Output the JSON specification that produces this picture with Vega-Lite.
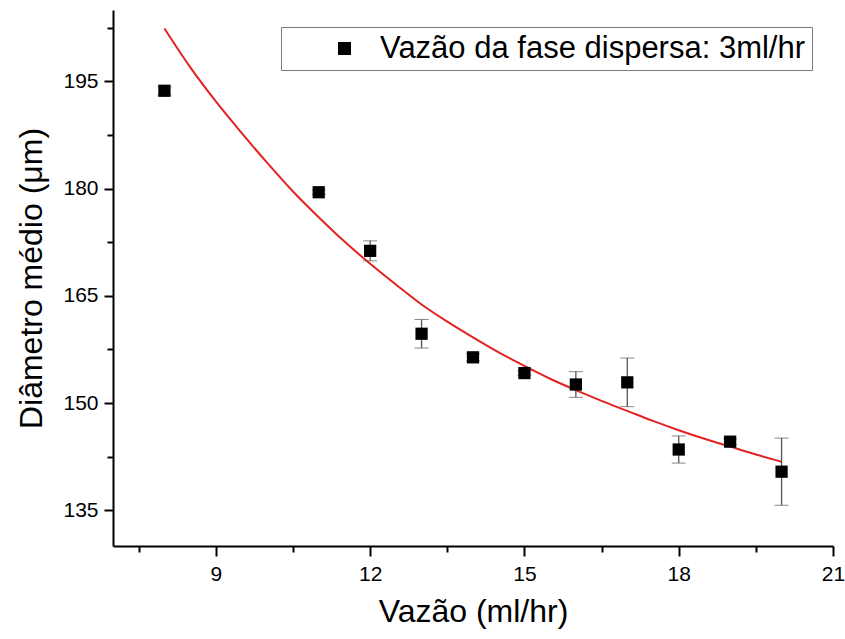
{
  "$schema": "https://vega.github.io/schema/vega-lite/v6.json",
  "width": 720,
  "height": 536,
  "autosize": {"type": "none"},
  "padding": {"left": 113, "top": 10, "right": 12, "bottom": 93},
  "background": "white",
  "config": {
    "view": {"stroke": null},
    "font": "Liberation Sans",
    "axis": {
      "grid": false,
      "domainColor": "black",
      "domainWidth": 2,
      "tickColor": "black",
      "tickWidth": 2,
      "labelFont": "Liberation Sans",
      "labelFontSize": 21,
      "labelColor": "black",
      "titleFont": "Liberation Sans",
      "titleFontSize": 32,
      "titleFontWeight": "normal",
      "titleColor": "black",
      "labelOverlap": false,
      "labelFlush": false,
      "labelBound": false
    }
  },
  "datasets": {
    "curve": [
      {"x": 8.0, "y": 202.4},
      {"x": 8.5, "y": 197.0},
      {"x": 9.0, "y": 192.2},
      {"x": 9.5, "y": 187.8},
      {"x": 10.0, "y": 183.6},
      {"x": 10.5, "y": 179.6},
      {"x": 11.0, "y": 176.0},
      {"x": 11.5, "y": 172.6},
      {"x": 12.0, "y": 169.5},
      {"x": 12.5, "y": 166.6},
      {"x": 13.0, "y": 163.8},
      {"x": 13.5, "y": 161.4},
      {"x": 14.0, "y": 159.2},
      {"x": 14.5, "y": 157.1},
      {"x": 15.0, "y": 155.2},
      {"x": 15.5, "y": 153.4},
      {"x": 16.0, "y": 151.8},
      {"x": 16.5, "y": 150.3},
      {"x": 17.0, "y": 148.9},
      {"x": 17.5, "y": 147.5},
      {"x": 18.0, "y": 146.2},
      {"x": 18.5, "y": 145.0},
      {"x": 19.0, "y": 143.9},
      {"x": 19.5, "y": 142.8},
      {"x": 20.0, "y": 141.8}
    ],
    "points": [
      {"x": 8, "y": 193.7, "lo": 193.1, "hi": 194.3, "series": "Vazão da fase dispersa: 3ml/hr"},
      {"x": 11, "y": 179.5, "lo": 179.2, "hi": 179.8, "series": "Vazão da fase dispersa: 3ml/hr"},
      {"x": 12, "y": 171.3, "lo": 169.9, "hi": 172.7, "series": "Vazão da fase dispersa: 3ml/hr"},
      {"x": 13, "y": 159.7, "lo": 157.7, "hi": 161.7, "series": "Vazão da fase dispersa: 3ml/hr"},
      {"x": 14, "y": 156.4, "lo": 155.9, "hi": 156.9, "series": "Vazão da fase dispersa: 3ml/hr"},
      {"x": 15, "y": 154.2, "lo": 153.9, "hi": 154.5, "series": "Vazão da fase dispersa: 3ml/hr"},
      {"x": 16, "y": 152.6, "lo": 150.8, "hi": 154.4, "series": "Vazão da fase dispersa: 3ml/hr"},
      {"x": 17, "y": 152.9, "lo": 149.5, "hi": 156.3, "series": "Vazão da fase dispersa: 3ml/hr"},
      {"x": 18, "y": 143.5, "lo": 141.6, "hi": 145.4, "series": "Vazão da fase dispersa: 3ml/hr"},
      {"x": 19, "y": 144.6, "lo": 144.2, "hi": 145.0, "series": "Vazão da fase dispersa: 3ml/hr"},
      {"x": 20, "y": 140.4, "lo": 135.7, "hi": 145.1, "series": "Vazão da fase dispersa: 3ml/hr"}
    ]
  },
  "layer": [
    {
      "data": {"name": "curve"},
      "mark": {"type": "line", "color": "#e32222", "strokeWidth": 2, "interpolate": "monotone"},
      "encoding": {
        "x": {
          "field": "x", "type": "quantitative",
          "scale": {"domain": [7, 21], "nice": false, "zero": false},
          "axis": {
            "title": "Vazão (ml/hr)",
            "values": [7.5, 9, 10.5, 12, 13.5, 15, 16.5, 18, 19.5, 21],
            "labelExpr": "datum.value % 3 === 0 ? datum.label : ''",
            "tickSize": {"condition": {"test": "datum.value % 3 !== 0", "value": 6}, "value": 10},
            "labelPadding": 7,
            "titlePadding": 12
          }
        },
        "y": {
          "field": "y", "type": "quantitative",
          "scale": {"domain": [130, 205], "nice": false, "zero": false},
          "axis": {
            "title": "Diâmetro médio (μm)",
            "values": [135, 142.5, 150, 157.5, 165, 172.5, 180, 187.5, 195, 202.5],
            "labelExpr": "datum.value % 15 === 0 ? datum.label : ''",
            "tickSize": {"condition": {"test": "datum.value % 15 !== 0", "value": 6}, "value": 9},
            "labelPadding": 6,
            "titlePadding": 14
          }
        }
      }
    },
    {
      "data": {"name": "points"},
      "mark": {"type": "errorbar", "ticks": {"size": 14, "color": "#555555", "strokeWidth": 1.3}, "rule": {"color": "#555555", "strokeWidth": 1.3}},
      "encoding": {
        "x": {"field": "x", "type": "quantitative", "scale": {"domain": [7, 21], "nice": false, "zero": false},
          "axis": {
            "title": "Vazão (ml/hr)",
            "values": [7.5, 9, 10.5, 12, 13.5, 15, 16.5, 18, 19.5, 21],
            "labelExpr": "datum.value % 3 === 0 ? datum.label : ''",
            "tickSize": {"condition": {"test": "datum.value % 3 !== 0", "value": 6}, "value": 10},
            "labelPadding": 7,
            "titlePadding": 12
          }},
        "y": {"field": "lo", "type": "quantitative", "scale": {"domain": [130, 205], "nice": false, "zero": false},
          "axis": {
            "title": "Diâmetro médio (μm)",
            "values": [135, 142.5, 150, 157.5, 165, 172.5, 180, 187.5, 195, 202.5],
            "labelExpr": "datum.value % 15 === 0 ? datum.label : ''",
            "tickSize": {"condition": {"test": "datum.value % 15 !== 0", "value": 6}, "value": 9},
            "labelPadding": 6,
            "titlePadding": 14
          }},
        "y2": {"field": "hi"}
      }
    },
    {
      "data": {"name": "points"},
      "mark": {"type": "point", "shape": "square", "filled": true, "size": 150, "opacity": 1},
      "encoding": {
        "x": {"field": "x", "type": "quantitative", "scale": {"domain": [7, 21], "nice": false, "zero": false},
          "axis": {
            "title": "Vazão (ml/hr)",
            "values": [7.5, 9, 10.5, 12, 13.5, 15, 16.5, 18, 19.5, 21],
            "labelExpr": "datum.value % 3 === 0 ? datum.label : ''",
            "tickSize": {"condition": {"test": "datum.value % 3 !== 0", "value": 6}, "value": 10},
            "labelPadding": 7,
            "titlePadding": 12
          }},
        "y": {"field": "y", "type": "quantitative", "scale": {"domain": [130, 205], "nice": false, "zero": false},
          "axis": {
            "title": "Diâmetro médio (μm)",
            "values": [135, 142.5, 150, 157.5, 165, 172.5, 180, 187.5, 195, 202.5],
            "labelExpr": "datum.value % 15 === 0 ? datum.label : ''",
            "tickSize": {"condition": {"test": "datum.value % 15 !== 0", "value": 6}, "value": 9},
            "labelPadding": 6,
            "titlePadding": 14
          }},
        "color": {
          "field": "series", "type": "nominal",
          "scale": {"range": ["black"]},
          "legend": {
            "title": null,
            "orient": "none",
            "legendX": 168,
            "legendY": 17,
            "strokeColor": "#7a7a7a",
            "fillColor": "white",
            "padding": 6,
            "symbolType": "square",
            "symbolSize": 169,
            "symbolStrokeWidth": 0,
            "symbolOffset": 42,
            "labelOffset": 20,
            "labelFont": "Liberation Sans",
            "labelFontSize": 31,
            "labelColor": "black",
            "labelLimit": 0
          }
        }
      }
    }
  ]
}
